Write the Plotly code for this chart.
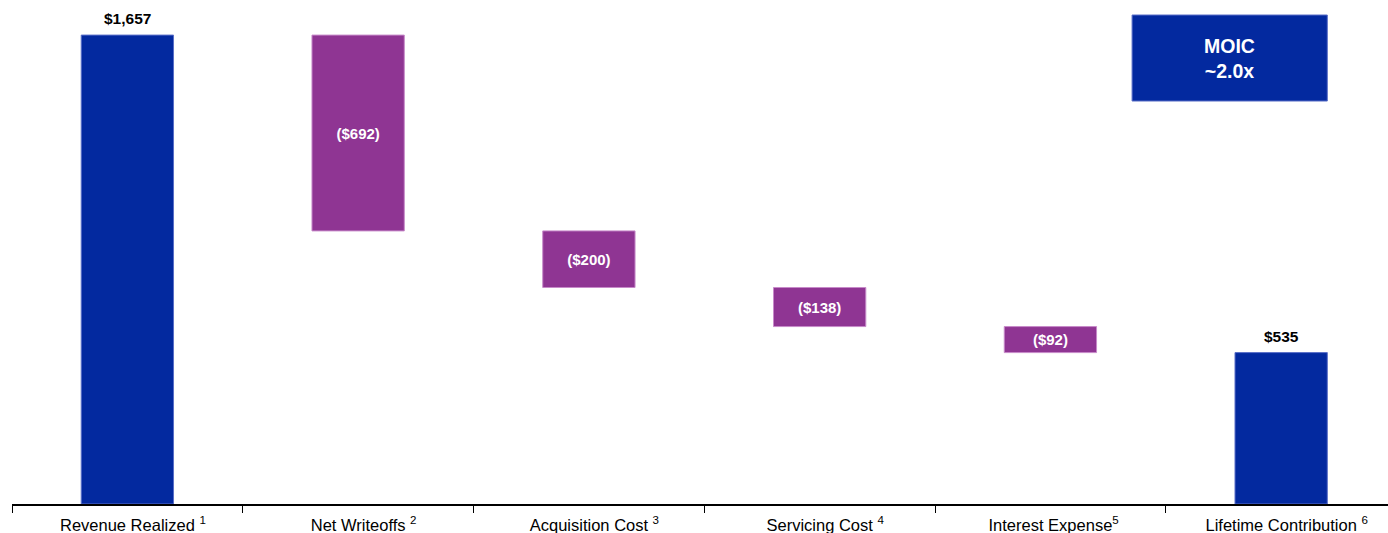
import plotly.graph_objects as go

names = ["Revenue Realized", "Net Writeoffs", "Acquisition Cost",
         "Servicing Cost", "Interest Expense", "Lifetime Contribution"]
footnotes = ["1", "2", "3", "4", "5", "6"]
sup_gap = [" ", " ", " ", " ", "", " "]
values = [1657, -692, -200, -138, -92, 535]
kinds = ["total", "delta", "delta", "delta", "delta", "total"]
labels = ["$1,657", "($692)", "($200)", "($138)", "($92)", "$535"]
moic_text = "MOIC<br>~2.0x"

BLUE = "#03299F"
PURPLE = "#8F3593"
FONT = "Liberation Sans, Arial, sans-serif"

# main text centred on the category, footnote appended (balanced by an invisible copy in front)
categories = []
for n, f, g in zip(names, footnotes, sup_gap):
    pad = '<span style="color:rgba(0,0,0,0)"><sup>' + f + '</sup>' + ('&nbsp;' if g else '') + '</span>'
    categories.append(pad + n + g + "<sup>" + f + "</sup>")

bases, heights, colors, inner_text = [], [], [], []
running = 0
for v, k, lab in zip(values, kinds, labels):
    if k == "total":
        bases.append(0)
        heights.append(v)
        running = v
        colors.append(BLUE)
        inner_text.append("")
    else:
        bases.append(running + v)
        heights.append(-v)
        running = running + v
        colors.append(PURPLE)
        inner_text.append("<b>" + lab + "</b>")

fig = go.Figure()
fig.add_trace(go.Bar(
    x=categories, y=heights, base=bases, width=0.4,
    marker=dict(color=colors, line=dict(color=["#5A6FC8" if c == BLUE else "#C78AC9" for c in colors], width=1)),
    text=inner_text, textposition="inside", textangle=0,
    insidetextanchor="middle", constraintext="none",
    insidetextfont=dict(family=FONT, size=15, color="white"),
    hoverinfo="skip",
))

# labels above total bars
for cat, v, k, lab in zip(categories, values, kinds, labels):
    if k == "total":
        fig.add_annotation(x=cat, y=v, xref="x", yref="y", text="<b>" + lab + "</b>",
                           showarrow=False, yanchor="bottom", yshift=6,
                           font=dict(family=FONT, size=15.5, color="black"))

# MOIC callout box
fig.add_shape(type="rect", xref="x", yref="y", x0=4.354, x1=5.2, y0=1424, y1=1728,
              fillcolor=BLUE, line=dict(color="#5A6FC8", width=1), layer="above")
fig.add_annotation(x=(4.354 + 5.2) / 2, y=(1424 + 1728) / 2, xref="x", yref="y",
                   text="<b>" + moic_text + "</b>", showarrow=False,
                   font=dict(family=FONT, size=19.5, color="white"))

fig.update_layout(
    width=1388, height=533,
    margin=dict(l=12, r=0, t=0, b=29),
    plot_bgcolor="white", paper_bgcolor="white",
    showlegend=False,
    xaxis=dict(range=[-0.5, 5.463], showgrid=False, showline=True, linecolor="black", linewidth=1.5,
               ticks="outside", tickson="boundaries", ticklen=7, tickcolor="black", tickwidth=1,
               ticklabelstandoff=5, automargin=False,
               tickfont=dict(family=FONT, size=16.5, color="black"),
               zeroline=False),
    yaxis=dict(range=[0, 1781], visible=False, showgrid=False, zeroline=False, automargin=False),
)

fig.write_html("out.html")
